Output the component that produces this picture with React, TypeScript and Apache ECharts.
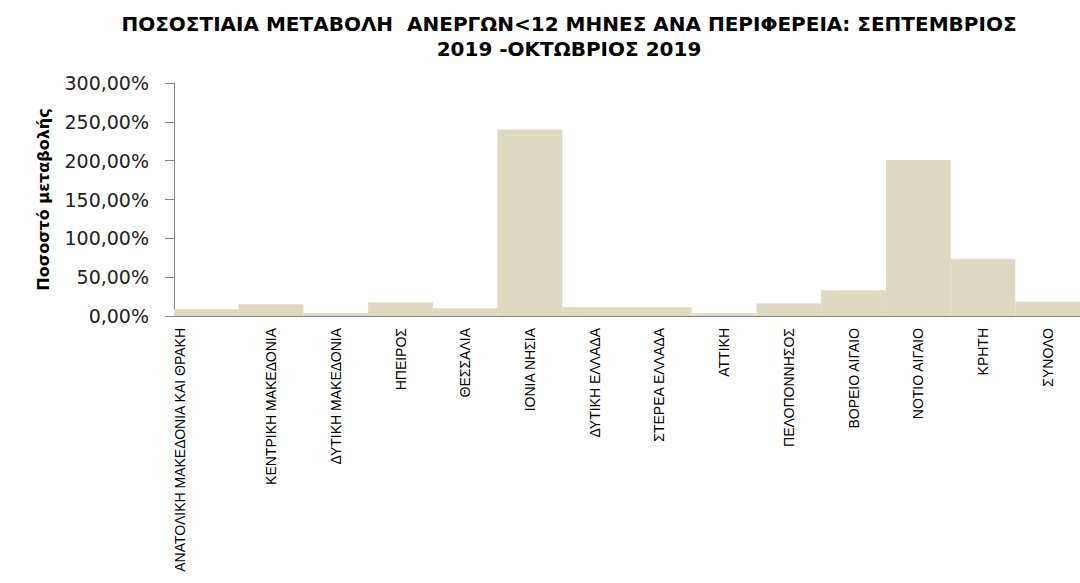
import React, { useEffect, useRef } from "react";
import * as echarts from "echarts";

const titleText =
  "ΠΟΣΟΣΤΙΑΙΑ ΜΕΤΑΒΟΛΗ  ΑΝΕΡΓΩΝ<12 ΜΗΝΕΣ ΑΝΑ ΠΕΡΙΦΕΡΕΙΑ: ΣΕΠΤΕΜΒΡΙΟΣ\n2019 -ΟΚΤΩΒΡΙΟΣ 2019";
const yAxisName = "Ποσοστό μεταβολής";

const regions = [
  "ΑΝΑΤΟΛΙΚΗ ΜΑΚΕΔΟΝΙΑ ΚΑΙ ΘΡΑΚΗ",
  "ΚΕΝΤΡΙΚΗ ΜΑΚΕΔΟΝΙΑ",
  "ΔΥΤΙΚΗ ΜΑΚΕΔΟΝΙΑ",
  "ΗΠΕΙΡΟΣ",
  "ΘΕΣΣΑΛΙΑ",
  "ΙΟΝΙΑ ΝΗΣΙΑ",
  "ΔΥΤΙΚΗ ΕΛΛΑΔΑ",
  "ΣΤΕΡΕΑ ΕΛΛΑΔΑ",
  "ΑΤΤΙΚΗ",
  "ΠΕΛΟΠΟΝΝΗΣΟΣ",
  "ΒΟΡΕΙΟ ΑΙΓΑΙΟ",
  "ΝΟΤΙΟ ΑΙΓΑΙΟ",
  "ΚΡΗΤΗ",
  "ΣΥΝΟΛΟ",
];

// percentage change (%)
const changePct = [8.6, 15.0, 3.5, 17.6, 9.9, 240.0, 11.2, 11.2, 3.4, 16.0, 33.0, 201.0, 73.5, 18.5];

const yMin = 0;
const yMax = 300;
const yStep = 50;

const fmtPct = (v: number) => v.toFixed(2).replace(".", ",") + "%";

export default function App() {
  const ref = useRef<HTMLDivElement>(null);

  useEffect(() => {
    if (!ref.current) return;
    const chart = echarts.init(ref.current, undefined, { renderer: "svg" });
    chart.setOption({
      animation: false,
      backgroundColor: "#ffffff",
      title: {
        text: titleText,
        left: 564,
        top: 6,
        textAlign: "center",
        textStyle: {
          fontFamily: "'DejaVu Sans', sans-serif",
          fontWeight: "bold",
          fontSize: 20,
          lineHeight: 25,
          color: "#000000",
        },
      },
      grid: {
        left: 174,
        right: 0,
        top: 83,
        bottom: 267,
        containLabel: false,
      },
      xAxis: {
        type: "category",
        data: regions,
        axisLine: { show: true, lineStyle: { color: "#868686", width: 1 } },
        axisTick: { show: false },
        axisLabel: {
          rotate: 90,
          interval: 0,
          margin: 12,
          fontFamily: "'Liberation Sans', Arial, sans-serif",
          fontSize: 14,
          color: "#000000",
          formatter: (v: string, i: number) => (i === 0 ? `{first|${v}}` : v),
          rich: {
            first: {
              fontFamily: "'Liberation Sans', Arial, sans-serif",
              fontSize: 14,
              color: "#000000",
              padding: [0, 0, 52, 0],
            },
          },
        },
      },
      yAxis: {
        type: "value",
        min: yMin,
        max: yMax,
        interval: yStep,
        name: yAxisName,
        nameLocation: "middle",
        nameGap: 123,
        nameRotate: 90,
        nameTextStyle: {
          fontFamily: "'DejaVu Sans', sans-serif",
          fontWeight: "bold",
          fontSize: 16,
          color: "#000000",
        },
        axisLine: { show: true, lineStyle: { color: "#868686", width: 1 } },
        axisTick: { show: true, length: 9, lineStyle: { color: "#868686" } },
        splitLine: { show: false },
        axisLabel: {
          margin: 25,
          fontFamily: "'DejaVu Sans', sans-serif",
          fontSize: 19,
          color: "#222222",
          formatter: (v: number) => fmtPct(v),
        },
      },
      series: [
        {
          type: "bar",
          data: changePct,
          barCategoryGap: "0%",
          itemStyle: { color: "#ddd9c3" },
        },
      ],
    });
    return () => chart.dispose();
  }, []);

  return (
    <div
      ref={ref}
      style={{ position: "fixed", left: 0, top: 0, width: 1080, height: 583 }}
    />
  );
}
